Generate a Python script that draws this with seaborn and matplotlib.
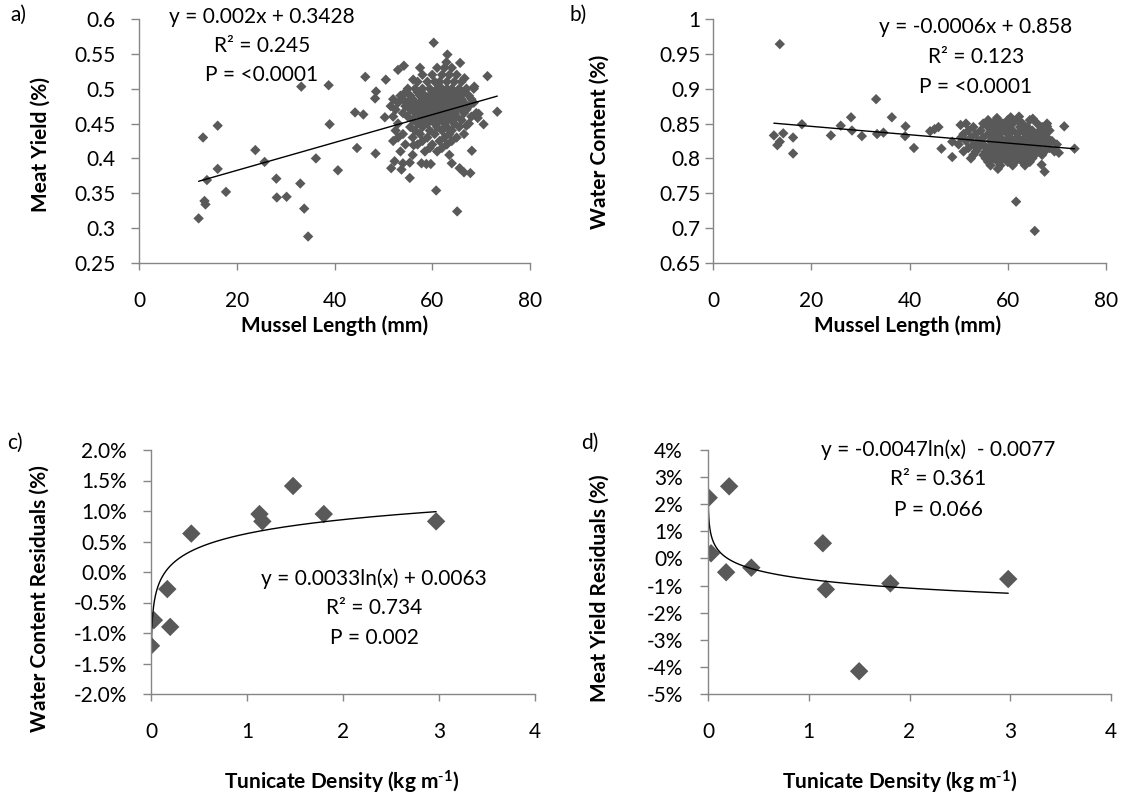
import numpy as np
import pandas as pd
import seaborn as sns
import matplotlib.pyplot as plt
from matplotlib.ticker import FuncFormatter, PercentFormatter, FixedLocator

# ---------------- data ----------------
# Panel a: mussel length (mm) vs meat yield, sparse points
a_sparse_len = [12.2, 13.1, 13.4, 13.6, 13.9, 16.1, 16.1, 17.8, 23.8, 25.7, 28.1, 28.2,
                30.2, 33.0, 33.2, 33.8, 34.6, 36.2, 38.8, 39.0, 40.7, 44.2, 44.6, 45.9,
                46.3, 48.4, 48.5, 48.3, 50.5, 50.3, 51.6, 52.3, 53.0, 54.2, 53.7, 54.0,
                55.4, 55.4, 56.1, 56.2, 57.8, 58.8, 59.7, 60.3, 60.8, 62.9, 63.1, 64.0,
                65.1, 65.7, 65.6, 66.6, 66.5, 67.8, 67.0, 68.1, 68.6, 69.3, 70.5, 71.3,
                73.3, 69.5, 68.5]
a_sparse_yield = [0.314, 0.430, 0.339, 0.334, 0.369, 0.447, 0.385, 0.352, 0.412, 0.395, 0.371, 0.344,
                  0.345, 0.364, 0.503, 0.328, 0.288, 0.400, 0.505, 0.449, 0.383, 0.466, 0.415, 0.463,
                  0.517, 0.407, 0.496, 0.486, 0.513, 0.459, 0.386, 0.396, 0.527, 0.533, 0.384, 0.393,
                  0.394, 0.372, 0.513, 0.419, 0.393, 0.392, 0.392, 0.566, 0.354, 0.538, 0.549, 0.393,
                  0.324, 0.537, 0.386, 0.515, 0.380, 0.379, 0.447, 0.411, 0.503, 0.458, 0.449, 0.518,
                  0.467, 0.464, 0.500]
# Panel a: dense cluster, row by row (meat yield level -> lengths)
a_rows_yield = [0.530, 0.520, 0.510, 0.500, 0.495, 0.490, 0.485, 0.480, 0.475, 0.470,
                0.465, 0.460, 0.455, 0.450, 0.445, 0.440, 0.435, 0.430, 0.425, 0.420,
                0.415, 0.410, 0.405]
a_rows_len = [
    [57.5, 61, 62.5, 64],
    [58, 60, 62, 63.5, 65],
    [57, 59, 60.5, 61.5, 63, 64.5, 66],
    [55, 56.5, 58, 59.5, 61, 62, 63, 64, 65.5, 67],
    [54.5, 57, 60, 62.5, 64.5, 66.5],
    [53.5, 55.5, 57.5, 58.5, 59.5, 60.5, 61.5, 62.5, 63.5, 64.5, 65.5, 67.5],
    [52, 54, 56, 58, 60, 61, 63, 65, 66, 68],
    [53, 55, 56.5, 57.5, 59, 60, 61, 62, 63, 64, 65, 66.5, 68.5],
    [51.5, 54.5, 56, 58.5, 60.5, 62, 63.5, 64.5, 66, 67.5],
    [52.5, 55.5, 57, 58, 59.5, 61, 62, 63, 64, 65, 66, 67],
    [54, 56.5, 58.5, 60, 61.5, 63, 64.5, 66.5, 69],
    [52, 55, 57.5, 59, 60.5, 62, 63.5, 65, 68],
    [56, 58, 60, 61.5, 63, 64, 66],
    [53, 57, 59, 60.5, 62.5, 64.5, 67.5],
    [55.5, 58, 61, 63, 65.5],
    [52.5, 56.5, 59.5, 62, 64],
    [54, 57.5, 60.5, 63.5, 66.5],
    [53, 56, 59, 62.5, 65],
    [52, 58, 61.5, 64],
    [54.5, 57, 60, 63],
    [59.5, 62],
    [53.5, 58.5, 61],
    [56, 63.5],
]

# Panel b: mussel length (mm) vs water content, sparse points
b_sparse_len = [13.6, 12.4, 13.1, 13.6, 14.3, 16.3, 16.3, 18.1, 24.0, 26.0, 28.1, 28.3,
                30.3, 33.2, 33.4, 34.7, 36.4, 39.2, 39.1, 40.9, 44.2, 45.1, 45.9, 46.5,
                48.7, 48.7, 50.4, 61.7, 65.5, 71.5, 73.6, 67.5, 66.9, 65.1, 62.3, 60.6,
                57.8, 68.0, 70.4]
b_sparse_water = [0.964, 0.833, 0.819, 0.824, 0.836, 0.830, 0.807, 0.849, 0.833, 0.847, 0.859, 0.840,
                  0.832, 0.885, 0.835, 0.837, 0.859, 0.846, 0.832, 0.815, 0.839, 0.842, 0.845, 0.814,
                  0.802, 0.824, 0.848, 0.738, 0.696, 0.846, 0.814, 0.781, 0.791, 0.857, 0.860, 0.859,
                  0.858, 0.846, 0.808]
b_rows_water = [0.855, 0.850, 0.845, 0.840, 0.835, 0.830, 0.825, 0.820, 0.815, 0.810,
                0.805, 0.800, 0.795, 0.790, 0.785]
b_rows_len = [
    [56, 58, 60, 62, 64.5],
    [51.5, 55, 57, 59, 61, 63, 66, 68],
    [53, 56, 58, 60, 62.5, 64, 67],
    [52, 54.5, 57, 59, 61, 63, 65, 66.5, 68.5],
    [51, 53.5, 56, 58, 60, 62, 64, 65.5, 67.5],
    [50.5, 52.5, 55, 57, 58.5, 60.5, 62, 63.5, 65, 66.5, 68],
    [51.5, 54, 56.5, 58, 59.5, 61, 62.5, 64, 65.5, 67, 69],
    [50, 53, 55, 57, 58.5, 60, 61.5, 63, 64.5, 66, 68, 70],
    [52, 54, 56, 57.5, 59, 60.5, 62, 63.5, 65, 66.5, 68.5],
    [51, 53.5, 55.5, 57, 58.5, 60, 61.5, 63, 64.5, 66, 67.5, 69.5],
    [53, 55, 56.5, 58, 59.5, 61, 62.5, 64, 65.5, 67],
    [52.5, 55.5, 57, 59, 60.5, 62, 63.5, 65],
    [56, 58, 60, 61.5, 63, 64.5],
    [56.5, 58.5, 61, 63.5],
    [58],
]

# Panel c / d: tunicate density (kg m-1) vs residuals
c_density = [0.00, 0.03, 0.17, 0.20, 0.42, 1.13, 1.16, 1.48, 1.80, 2.97]
c_resid = [-0.0121, -0.0079, -0.0028, -0.0090, 0.0063, 0.0095, 0.0083, 0.0141, 0.0095, 0.0083]
d_density = [0.007, 0.21, 0.03, 0.18, 0.43, 1.14, 1.17, 1.50, 1.81, 2.98]
d_resid = [0.0224, 0.0266, 0.0019, -0.0051, -0.0034, 0.0056, -0.0114, -0.0416, -0.0092, -0.0076]

# Trendline coefficients (from the chart equations)
a_slope, a_icpt = 0.002, 0.3428
b_slope, b_icpt = -0.0006, 0.858
c_coef, c_icpt = 0.0033, 0.0063
d_coef, d_icpt = -0.0047, -0.0077
log_x_min = 0.0015

eq_texts = {
    'a': ['y = 0.002x + 0.3428', 'R² = 0.245', 'P = <0.0001'],
    'b': ['y = -0.0006x + 0.858', 'R² = 0.123', 'P = <0.0001'],
    'c': ['y = 0.0033ln(x) + 0.0063', 'R² = 0.734', 'P = 0.002'],
    'd': ['y = -0.0047ln(x)  - 0.0077', 'R² = 0.361', 'P = 0.066'],
}

# ---------------- build tables ----------------
def expand(rows_y, rows_x):
    xs, ys = [], []
    for yv, xr in zip(rows_y, rows_x):
        xs.extend(xr)
        ys.extend([yv] * len(xr))
    return xs, ys

ax_len, ay = expand(a_rows_yield, a_rows_len)
df_a = pd.DataFrame({'len': a_sparse_len + ax_len, 'val': a_sparse_yield + ay})
bx_len, by = expand(b_rows_water, b_rows_len)
df_b = pd.DataFrame({'len': b_sparse_len + bx_len, 'val': b_sparse_water + by})
df_c = pd.DataFrame({'dens': c_density, 'res': c_resid})
df_d = pd.DataFrame({'dens': d_density, 'res': d_resid})

# ---------------- style ----------------
sns.set_theme(style='white')
plt.rcParams['font.family'] = ['Lato', 'DejaVu Sans']
plt.rcParams['mathtext.default'] = 'regular'
plt.rcParams['axes.unicode_minus'] = False

W, H = 1124, 798
fig = plt.figure(figsize=(W / 100, H / 100), dpi=100)
fig.patch.set_facecolor('white')

def box(l, t, r, b):
    return [l / W, 1 - b / H, (r - l) / W, (b - t) / H]

def fx(px):
    return px / W

def fy(py):
    return 1 - py / H

ax_a = fig.add_axes(box(139, 19, 530, 263))
ax_b = fig.add_axes(box(713, 19, 1106, 263))
ax_c = fig.add_axes(box(151, 450, 535, 694))
ax_d = fig.add_axes(box(708, 450, 1111, 694))

MK = '#595959'
AXC = '#868686'
FS = 15

# scatter
sns.scatterplot(data=df_a, x='len', y='val', marker='D', s=28, color=MK, edgecolor='none',
                linewidth=0, ax=ax_a)
sns.scatterplot(data=df_b, x='len', y='val', marker='D', s=28, color=MK, edgecolor='none',
                linewidth=0, ax=ax_b)
sns.scatterplot(data=df_c, x='dens', y='res', marker='D', s=88, color=MK, edgecolor='none',
                linewidth=0, ax=ax_c)
sns.scatterplot(data=df_d, x='dens', y='res', marker='D', s=88, color=MK, edgecolor='none',
                linewidth=0, ax=ax_d)

# trendlines
for ax, df, sl, ic in [(ax_a, df_a, a_slope, a_icpt), (ax_b, df_b, b_slope, b_icpt)]:
    lx = np.array([df['len'].min(), df['len'].max()])
    sns.lineplot(x=lx, y=sl * lx + ic, color='black', linewidth=1, ax=ax)
for ax, df, cf, ic in [(ax_c, df_c, c_coef, c_icpt), (ax_d, df_d, d_coef, d_icpt)]:
    lx = np.geomspace(log_x_min, df['dens'].max(), 300)
    sns.lineplot(x=lx, y=cf * np.log(lx) + ic, color='black', linewidth=1, ax=ax)

# axes limits / ticks
ax_a.set_xlim(0, 80); ax_a.set_ylim(0.25, 0.6)
ax_b.set_xlim(0, 80); ax_b.set_ylim(0.65, 1.0)
ax_c.set_xlim(0, 4); ax_c.set_ylim(-0.02, 0.02)
ax_d.set_xlim(0, 4); ax_d.set_ylim(-0.05, 0.04)

ax_a.xaxis.set_major_locator(FixedLocator([0, 20, 40, 60, 80]))
ax_b.xaxis.set_major_locator(FixedLocator([0, 20, 40, 60, 80]))
ax_c.xaxis.set_major_locator(FixedLocator([0, 1, 2, 3, 4]))
ax_d.xaxis.set_major_locator(FixedLocator([0, 1, 2, 3, 4]))
ax_a.yaxis.set_major_locator(FixedLocator(list(np.round(np.arange(0.25, 0.601, 0.05), 2))))
ax_b.yaxis.set_major_locator(FixedLocator(list(np.round(np.arange(0.65, 1.001, 0.05), 2))))
ax_c.yaxis.set_major_locator(FixedLocator(list(np.round(np.arange(-0.02, 0.0201, 0.005), 3))))
ax_d.yaxis.set_major_locator(FixedLocator(list(np.round(np.arange(-0.05, 0.0401, 0.01), 2))))

gfmt = FuncFormatter(lambda v, p: '%g' % v)
ax_a.yaxis.set_major_formatter(gfmt)
ax_b.yaxis.set_major_formatter(gfmt)
ax_c.yaxis.set_major_formatter(PercentFormatter(xmax=1, decimals=1))
ax_d.yaxis.set_major_formatter(PercentFormatter(xmax=1, decimals=0))

ypads = {ax_a: 11, ax_b: 3, ax_c: 11.5, ax_d: 12}
for ax in [ax_a, ax_b, ax_c, ax_d]:
    for s in ['top', 'right']:
        ax.spines[s].set_visible(False)
    for s in ['left', 'bottom']:
        ax.spines[s].set_color(AXC)
        ax.spines[s].set_linewidth(1)
    ax.tick_params(axis='x', direction='out', length=5, width=1, color=AXC, pad=15,
                   labelsize=FS, labelcolor='black', bottom=True)
    ax.tick_params(axis='y', direction='out', length=6, width=1, color=AXC, pad=ypads[ax],
                   labelsize=FS, labelcolor='black', left=True)
    ax.set_facecolor('white')
    ax.grid(False)

# axis labels
dens_label = 'Tunicate Density (kg m$^{\\text{-}1}$)'
labels = [
    (ax_a, 'Mussel Length (mm)', (335, 326), 'Meat Yield (%)', (41, 145)),
    (ax_b, 'Mussel Length (mm)', (908, 326), 'Water Content (%)', (600, 142)),
    (ax_c, dens_label, (342, 782), 'Water Content Residuals (%)', (40, 599)),
    (ax_d, dens_label, (900, 782), 'Meat Yield Residuals (%)', (600, 588)),
]
for ax, xl, xpos, yl, ypos in labels:
    ax.set_xlabel(xl, fontsize=FS, fontweight='bold', color='black')
    ax.set_ylabel(yl, fontsize=FS, fontweight='bold', color='black')
    ax.xaxis.set_label_coords(fx(xpos[0]), fy(xpos[1]), transform=fig.transFigure)
    ax.yaxis.set_label_coords(fx(ypos[0]), fy(ypos[1]), transform=fig.transFigure)
    ax.xaxis.label.set_va('center')
    ax.yaxis.label.set_va('center')

# equation texts
eq_pos = {
    'a': (262, [17, 46, 75]),
    'b': (976, [27, 57, 87]),
    'c': (374, [579, 608, 638]),
    'd': (938, [450, 479, 510]),
}
for k, (cx, ys) in eq_pos.items():
    for txt, yy in zip(eq_texts[k], ys):
        fig.text(fx(cx), fy(yy), txt, ha='center', va='center', fontsize=FS, color='black')

# panel letters
for t, (px, py) in zip(['a)', 'b)', 'c)', 'd)'], [(18, 15), (578, 15), (15, 443), (590, 443)]):
    fig.text(fx(px), fy(py), t, ha='center', va='center', fontsize=FS, color='black')

fig.savefig('out.png', dpi=100, facecolor='white')
